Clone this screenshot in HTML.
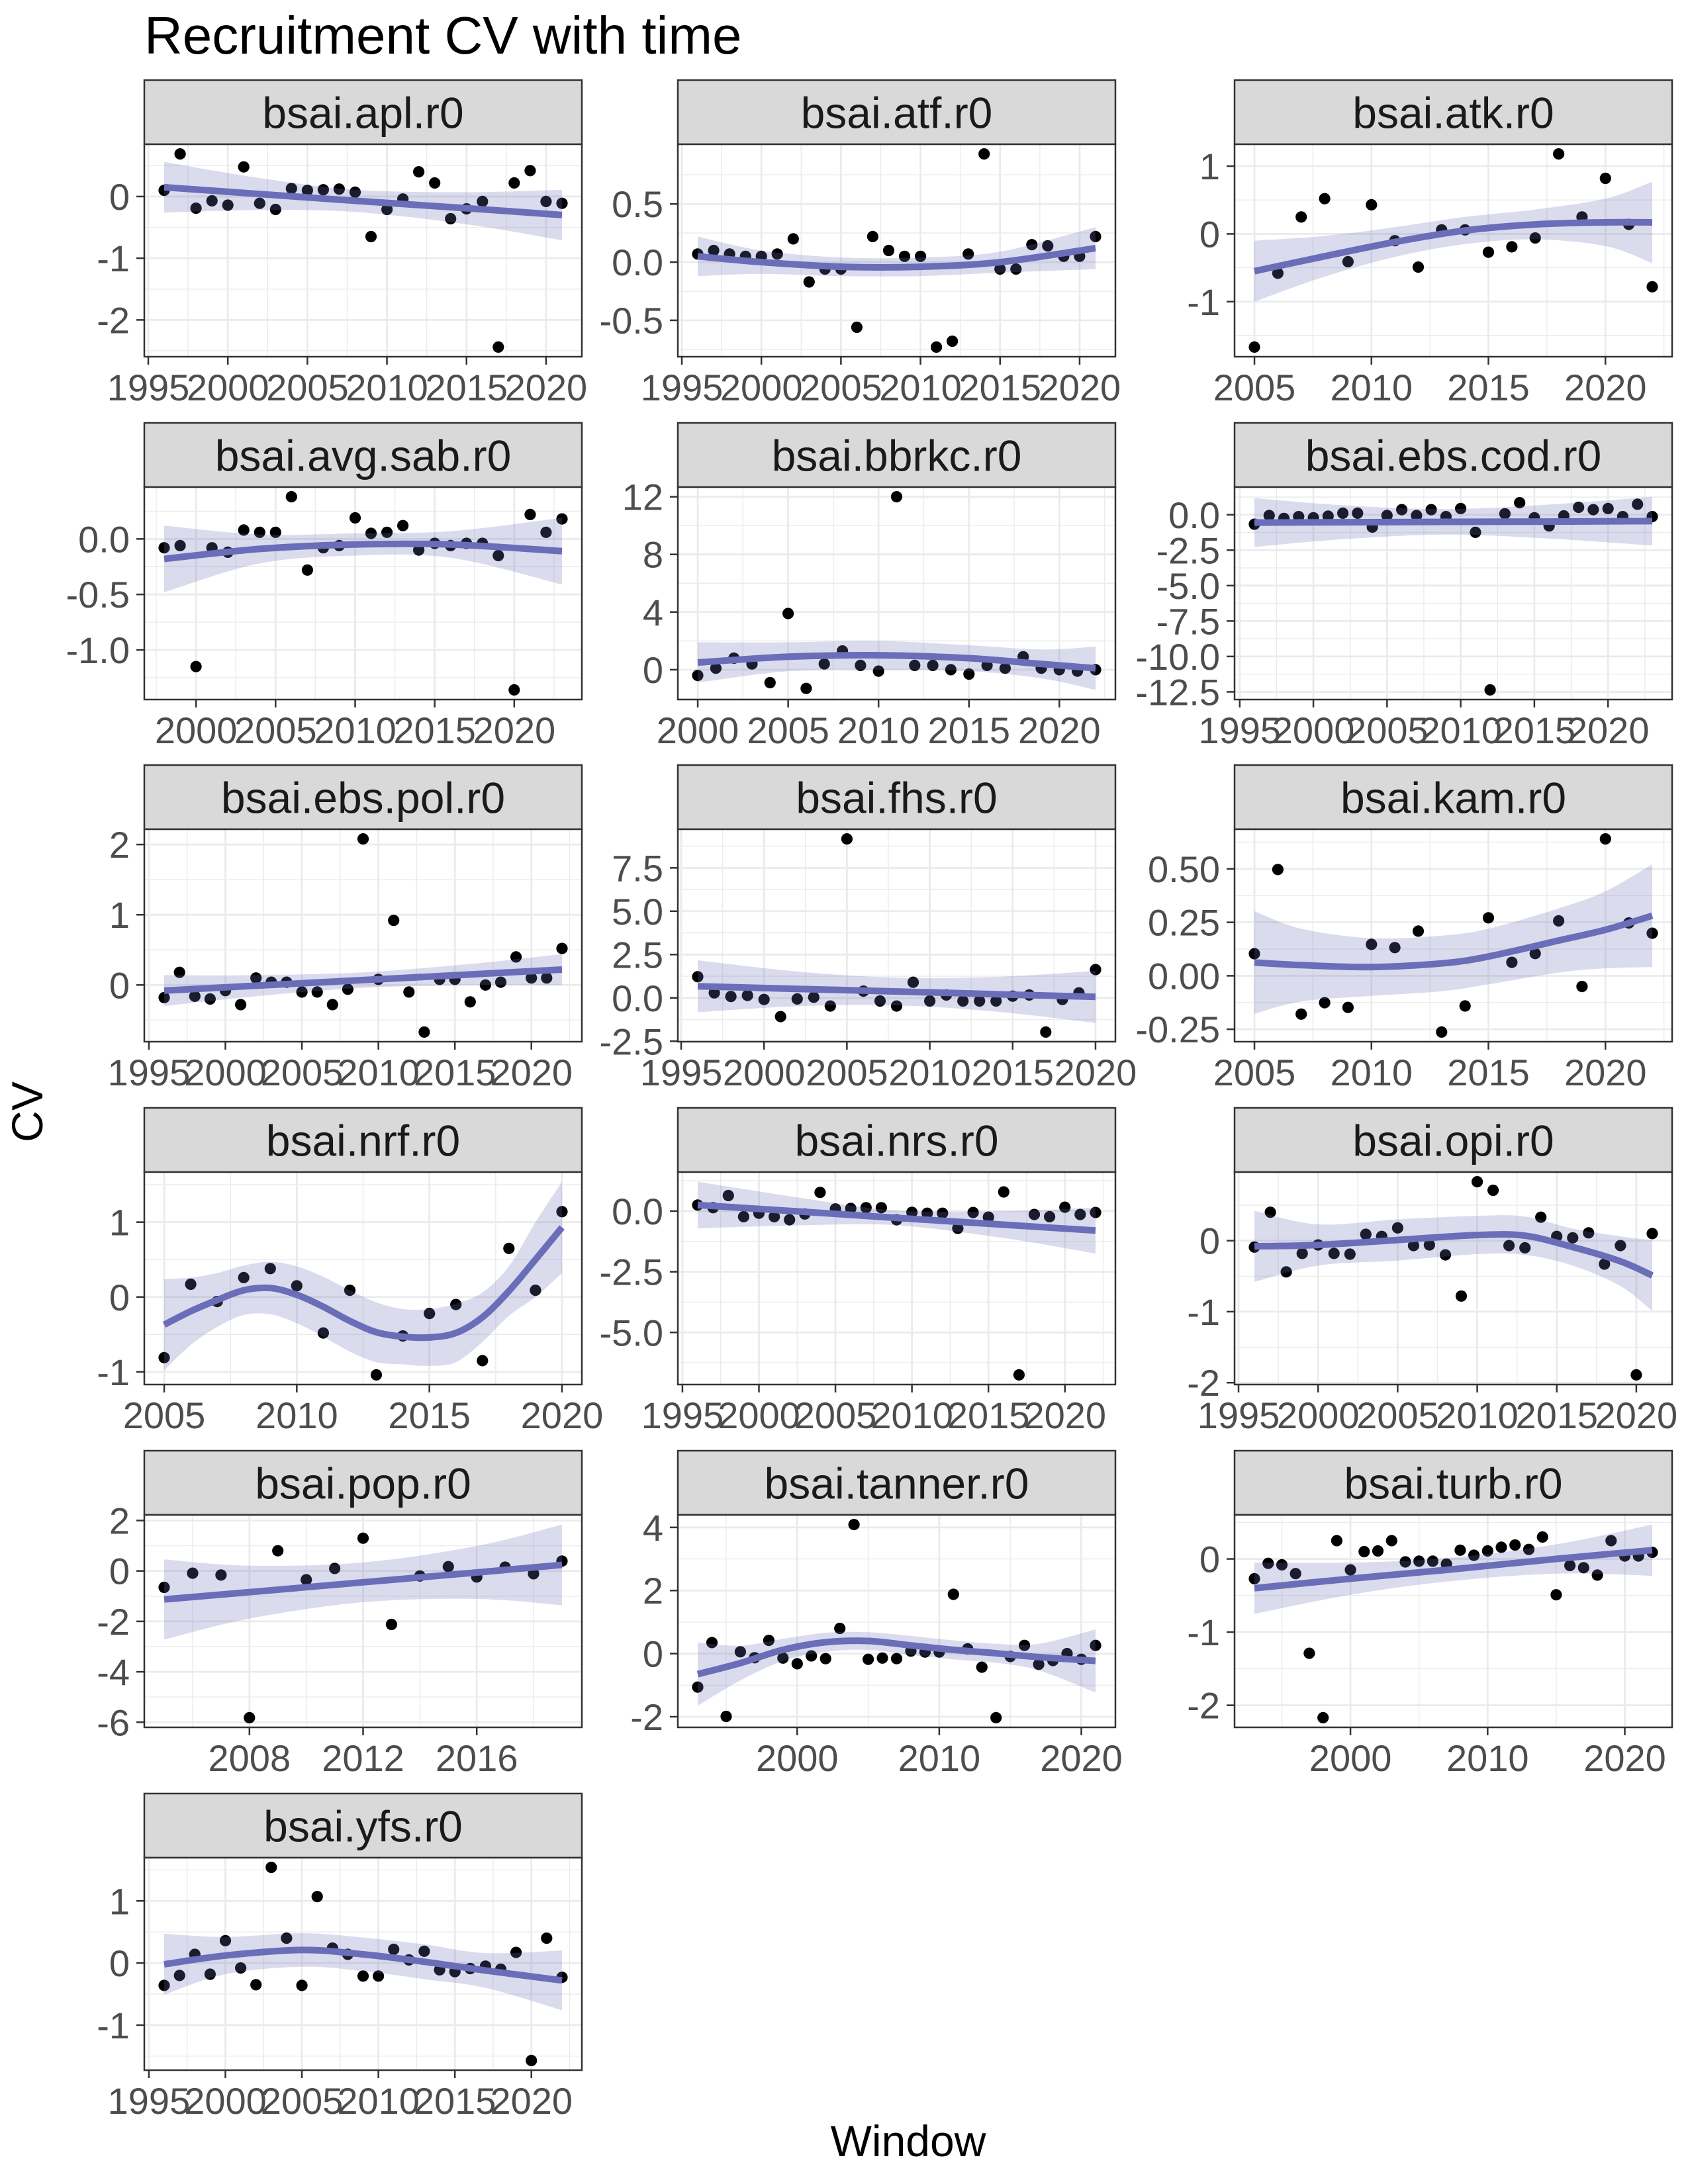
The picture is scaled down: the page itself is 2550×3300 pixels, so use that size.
<!DOCTYPE html>
<html><head><meta charset="utf-8"><title>Recruitment CV with time</title>
<style>
html,body{margin:0;padding:0;background:#fff;}
svg{display:block;font-family:"Liberation Sans",Arial,sans-serif;}
</style></head>
<body>
<svg id="chart" width="2550" height="3300" viewBox="0 0 2550 3300" xmlns="http://www.w3.org/2000/svg">
<rect x="0" y="0" width="2550" height="3300" fill="#ffffff"/>
<text x="218" y="81" font-size="80" fill="#000">Recruitment CV with time</text>
<text x="1372" y="3258" font-size="66" fill="#000" text-anchor="middle">Window</text>
<text x="0" y="0" font-size="66" fill="#000" text-anchor="middle" transform="translate(64,1680) rotate(-90)">CV</text>
<g id="panels"></g>
</svg>
<script>
// ---- data ----
const panelNames = ["bsai.apl.r0","bsai.atf.r0","bsai.atk.r0","bsai.avg.sab.r0","bsai.bbrkc.r0","bsai.ebs.cod.r0","bsai.ebs.pol.r0","bsai.fhs.r0","bsai.kam.r0","bsai.nrf.r0","bsai.nrs.r0","bsai.opi.r0","bsai.pop.r0","bsai.tanner.r0","bsai.turb.r0","bsai.yfs.r0"];

const aplStart = 1996;
const aplValues = [0.10,0.69,-0.19,-0.07,-0.14,0.48,-0.11,-0.21,0.13,0.10,0.11,0.12,0.07,-0.65,-0.21,-0.04,0.40,0.22,-0.36,-0.20,-0.08,-2.44,0.22,0.42,-0.08,-0.11];
const aplFitX = [1996,2002,2008,2015,2021];
const aplFit = [0.15,0.04,-0.07,-0.19,-0.30];
const aplHalf = [0.41,0.26,0.18,0.26,0.41];
const aplXTicks = [1995,2000,2005,2010,2015,2020];
const aplYTicks = [-2,-1,0];
const aplYLabels = ["-2","-1","0"];

const atfStart = 1996;
const atfValues = [0.07,0.10,0.07,0.05,0.05,0.07,0.20,-0.17,-0.06,-0.06,-0.56,0.22,0.10,0.05,0.05,-0.73,-0.68,0.07,0.93,-0.06,-0.06,0.15,0.14,0.05,0.05,0.22];
const atfFitX = [1996,2000,2005,2010,2015,2021];
const atfFit = [0.05,0.0,-0.04,-0.04,0.0,0.12];
const atfHalf = [0.17,0.10,0.08,0.08,0.09,0.18];
const atfXTicks = [1995,2000,2005,2010,2015,2020];
const atfYTicks = [-0.5,0,0.5];
const atfYLabels = ["-0.5","0.0","0.5"];

const atkStart = 2005;
const atkValues = [-1.67,-0.58,0.25,0.52,-0.41,0.43,-0.10,-0.49,0.06,0.06,-0.27,-0.19,-0.06,1.18,0.25,0.82,0.14,-0.78];
const atkFitX = [2005,2008,2011,2014,2017,2020,2022];
const atkFit = [-0.55,-0.33,-0.12,0.05,0.14,0.17,0.17];
const atkHalf = [0.45,0.30,0.22,0.20,0.22,0.35,0.60];
const atkXTicks = [2005,2010,2015,2020];
const atkYTicks = [-1,0,1];
const atkYLabels = ["-1","0","1"];

const sabStart = 1998;
const sabValues = [-0.08,-0.06,-1.15,-0.08,-0.12,0.08,0.06,0.06,0.38,-0.28,-0.08,-0.06,0.19,0.05,0.06,0.12,-0.10,-0.04,-0.06,-0.04,-0.04,-0.15,-1.36,0.22,0.06,0.18];
const sabFitX = [1998,2004,2010,2016,2023];
const sabFit = [-0.18,-0.09,-0.05,-0.05,-0.11];
const sabHalf = [0.30,0.13,0.10,0.12,0.30];
const sabXTicks = [2000,2005,2010,2015,2020];
const sabYTicks = [-1.0,-0.5,0.0];
const sabYLabels = ["-1.0","-0.5","0.0"];

const bbrStart = 2000;
const bbrValues = [-0.4,0.1,0.8,0.4,-0.9,3.9,-1.3,0.4,1.3,0.3,-0.1,12.0,0.3,0.3,0.0,-0.3,0.3,0.1,0.9,0.1,0.0,-0.1,0.0];
const bbrFitX = [2000,2005,2010,2015,2019,2022];
const bbrFit = [0.5,0.9,1.0,0.8,0.4,0.1];
const bbrHalf = [1.4,1.0,1.0,0.9,1.0,1.5];
const bbrXTicks = [2000,2005,2010,2015,2020];
const bbrYTicks = [0,4,8,12];
const bbrYLabels = ["0","4","8","12"];

const codStart = 1996;
const codValues = [-0.67,-0.05,-0.26,-0.13,-0.21,-0.10,0.11,0.11,-0.87,-0.05,0.36,-0.05,0.36,-0.13,0.44,-1.24,-12.36,0.07,0.85,-0.21,-0.79,-0.08,0.52,0.36,0.44,-0.13,0.74,-0.13];
const codFitX = [1996,2002,2009,2016,2023];
const codFit = [-0.55,-0.53,-0.50,-0.48,-0.45];
const codHalf = [1.72,1.2,0.9,1.2,1.72];
const codXTicks = [1995,2000,2005,2010,2015,2020];
const codYTicks = [-12.5,-10,-7.5,-5,-2.5,0];
const codYLabels = ["-12.5","-10.0","-7.5","-5.0","-2.5","0.0"];

const polStart = 1996;
const polValues = [-0.18,0.18,-0.16,-0.20,-0.08,-0.28,0.10,0.04,0.04,-0.10,-0.10,-0.28,-0.06,2.08,0.08,0.92,-0.10,-0.67,0.08,0.08,-0.24,0.0,0.04,0.40,0.10,0.10,0.52];
const polFitX = [1996,2002,2009,2016,2022];
const polFit = [-0.08,-0.01,0.07,0.15,0.22];
const polHalf = [0.22,0.15,0.11,0.15,0.22];
const polXTicks = [1995,2000,2005,2010,2015,2020];
const polYTicks = [0,1,2];
const polYLabels = ["0","1","2"];

const fhsStart = 1996;
const fhsValues = [1.22,0.29,0.08,0.14,-0.09,-1.08,-0.06,0.04,-0.47,9.17,0.39,-0.18,-0.47,0.90,-0.18,0.17,-0.18,-0.18,-0.18,0.10,0.17,-1.97,-0.09,0.29,1.63];
const fhsFitX = [1996,2002,2008,2014,2020];
const fhsFit = [0.67,0.52,0.37,0.21,0.06];
const fhsHalf = [1.5,1.0,0.8,1.0,1.5];
const fhsXTicks = [1995,2000,2005,2010,2015,2020];
const fhsYTicks = [-2.5,0,2.5,5,7.5];
const fhsYLabels = ["-2.5","0.0","2.5","5.0","7.5"];

const kamStart = 2005;
const kamValues = [0.103,0.497,-0.179,-0.126,-0.148,0.147,0.132,0.209,-0.263,-0.141,0.271,0.063,0.104,0.257,-0.050,0.640,0.247,0.199];
const kamFitX = [2005,2007,2010,2013,2015,2018,2020,2022];
const kamFit = [0.062,0.050,0.041,0.058,0.090,0.165,0.215,0.281];
const kamHalf = [0.24,0.17,0.135,0.13,0.13,0.15,0.18,0.24];
const kamXTicks = [2005,2010,2015,2020];
const kamYTicks = [-0.25,0,0.25,0.5];
const kamYLabels = ["-0.25","0.00","0.25","0.50"];

const nrfStart = 2005;
const nrfValues = [-0.81,0.17,-0.06,0.26,0.38,0.15,-0.48,0.09,-1.04,-0.52,-0.22,-0.10,-0.85,0.65,0.09,1.14];
const nrfFitX = [2005,2006,2007,2008,2009,2010,2011,2012,2013,2014,2015,2016,2017,2018,2019,2020];
const nrfFit = [-0.37,-0.19,-0.04,0.09,0.12,0.03,-0.13,-0.32,-0.47,-0.53,-0.54,-0.48,-0.27,0.08,0.50,0.93];
const nrfHalf = [0.61,0.45,0.36,0.33,0.35,0.38,0.40,0.41,0.40,0.37,0.38,0.39,0.33,0.33,0.50,0.61];
const nrfXTicks = [2005,2010,2015,2020];
const nrfYTicks = [-1,0,1];
const nrfYLabels = ["-1","0","1"];

const nrsStart = 1996;
const nrsValues = [0.25,0.14,0.64,-0.23,-0.09,-0.23,-0.36,-0.12,0.77,0.09,0.11,0.14,0.14,-0.36,-0.05,-0.09,-0.09,-0.71,-0.06,-0.25,0.79,-6.75,-0.14,-0.23,0.16,-0.14,-0.06];
const nrsFitX = [1996,2003,2009,2016,2022];
const nrsFit = [0.25,-0.03,-0.28,-0.56,-0.80];
const nrsHalf = [0.96,0.55,0.30,0.55,0.95];
const nrsXTicks = [1995,2000,2005,2010,2015,2020];
const nrsYTicks = [-5,-2.5,0];
const nrsYLabels = ["-5.0","-2.5","0.0"];

const opiStart = 1996;
const opiValues = [-0.09,0.40,-0.44,-0.18,-0.06,-0.18,-0.19,0.09,0.06,0.18,-0.07,-0.06,-0.20,-0.78,0.83,0.71,-0.07,-0.10,0.33,0.06,0.04,0.11,-0.33,-0.07,-1.89,0.10];
const opiFitX = [1996,2000,2005,2010,2013,2016,2019,2021];
const opiFit = [-0.08,-0.06,0.01,0.08,0.07,-0.09,-0.29,-0.49];
const opiHalf = [0.50,0.29,0.29,0.27,0.27,0.26,0.35,0.50];
const opiXTicks = [1995,2000,2005,2010,2015,2020];
const opiYTicks = [-2,-1,0];
const opiYLabels = ["-2","-1","0"];

const popStart = 2005;
const popValues = [-0.65,-0.09,-0.16,-5.82,0.80,-0.35,0.10,1.30,-2.12,-0.20,0.17,-0.24,0.15,-0.11,0.39];
const popFitX = [2005,2008,2012,2016,2019];
const popFit = [-1.13,-0.84,-0.45,-0.06,0.24];
const popHalf = [1.59,1.05,0.79,1.05,1.60];
const popXTicks = [2008,2012,2016];
const popYTicks = [-6,-4,-2,0,2];
const popYLabels = ["-6","-4","-2","0","2"];

const tanStart = 1993;
const tanValues = [-1.06,0.35,-1.99,0.06,-0.13,0.42,-0.14,-0.32,-0.07,-0.16,0.80,4.09,-0.18,-0.14,-0.16,0.08,0.05,0.05,1.88,0.15,-0.43,-2.03,-0.09,0.26,-0.34,-0.22,0.0,-0.18,0.26];
const tanFitX = [1993,1996,1999,2002,2005,2008,2011,2014,2017,2021];
const tanFit = [-0.65,-0.30,0.12,0.36,0.40,0.26,0.12,0.01,-0.11,-0.23];
const tanHalf = [1.0,0.55,0.35,0.30,0.28,0.30,0.30,0.30,0.42,1.0];
const tanXTicks = [2000,2010,2020];
const tanYTicks = [-2,0,2,4];
const tanYLabels = ["-2","0","2","4"];

const turStart = 1993;
const turValues = [-0.27,-0.06,-0.08,-0.20,-1.29,-2.17,0.25,-0.15,0.10,0.11,0.25,-0.04,-0.03,-0.03,-0.07,0.12,0.05,0.11,0.16,0.19,0.13,0.30,-0.49,-0.09,-0.12,-0.22,0.25,0.04,0.04,0.09];
const turFitX = [1993,2000,2007,2015,2022];
const turFit = [-0.40,-0.27,-0.15,0.0,0.12];
const turHalf = [0.35,0.22,0.16,0.20,0.35];
const turXTicks = [2000,2010,2020];
const turYTicks = [-2,-1,0];
const turYLabels = ["-2","-1","0"];

const yfsStart = 1996;
const yfsValues = [-0.36,-0.20,0.14,-0.18,0.36,-0.08,-0.35,1.54,0.40,-0.36,1.07,0.24,0.14,-0.21,-0.21,0.22,0.05,0.19,-0.11,-0.14,-0.09,-0.05,-0.10,0.17,-1.57,0.40,-0.23];
const yfsFitX = [1996,2000,2005,2009,2013,2017,2022];
const yfsFit = [-0.02,0.12,0.21,0.14,0.02,-0.12,-0.28];
const yfsHalf = [0.49,0.30,0.27,0.27,0.28,0.28,0.48];
const yfsXTicks = [1995,2000,2005,2010,2015,2020];
const yfsYTicks = [-1,0,1];
const yfsYLabels = ["-1","0","1"];

const panelData = [
 [aplStart,aplValues,aplFitX,aplFit,aplHalf,aplXTicks,aplYTicks,aplYLabels],
 [atfStart,atfValues,atfFitX,atfFit,atfHalf,atfXTicks,atfYTicks,atfYLabels],
 [atkStart,atkValues,atkFitX,atkFit,atkHalf,atkXTicks,atkYTicks,atkYLabels],
 [sabStart,sabValues,sabFitX,sabFit,sabHalf,sabXTicks,sabYTicks,sabYLabels],
 [bbrStart,bbrValues,bbrFitX,bbrFit,bbrHalf,bbrXTicks,bbrYTicks,bbrYLabels],
 [codStart,codValues,codFitX,codFit,codHalf,codXTicks,codYTicks,codYLabels],
 [polStart,polValues,polFitX,polFit,polHalf,polXTicks,polYTicks,polYLabels],
 [fhsStart,fhsValues,fhsFitX,fhsFit,fhsHalf,fhsXTicks,fhsYTicks,fhsYLabels],
 [kamStart,kamValues,kamFitX,kamFit,kamHalf,kamXTicks,kamYTicks,kamYLabels],
 [nrfStart,nrfValues,nrfFitX,nrfFit,nrfHalf,nrfXTicks,nrfYTicks,nrfYLabels],
 [nrsStart,nrsValues,nrsFitX,nrsFit,nrsHalf,nrsXTicks,nrsYTicks,nrsYLabels],
 [opiStart,opiValues,opiFitX,opiFit,opiHalf,opiXTicks,opiYTicks,opiYLabels],
 [popStart,popValues,popFitX,popFit,popHalf,popXTicks,popYTicks,popYLabels],
 [tanStart,tanValues,tanFitX,tanFit,tanHalf,tanXTicks,tanYTicks,tanYLabels],
 [turStart,turValues,turFitX,turFit,turHalf,turXTicks,turYTicks,turYLabels],
 [yfsStart,yfsValues,yfsFitX,yfsFit,yfsHalf,yfsXTicks,yfsYTicks,yfsYLabels]
];

// ---- layout ----
const NS = "http://www.w3.org/2000/svg";
const colLeft = [218, 1024, 1865];
const rowTop = [121, 639, 1156, 1674, 2192, 2710];
const PW = 661, SH = 97, PH = 321;
const root = document.getElementById('panels');

function el(tag, attrs, parent){
  const e = document.createElementNS(NS, tag);
  for (const k in attrs) e.setAttribute(k, attrs[k]);
  parent.appendChild(e);
  return e;
}
function crSegs(p){
  let d = "";
  for (let i=0;i<p.length-1;i++){
    const p0=p[i-1]||p[i], p1=p[i], p2=p[i+1], p3=p[i+2]||p[i+1];
    const c1x=p1[0]+(p2[0]-p0[0])/6, c1y=p1[1]+(p2[1]-p0[1])/6;
    const c2x=p2[0]-(p3[0]-p1[0])/6, c2y=p2[1]-(p3[1]-p1[1])/6;
    d += " C"+c1x.toFixed(1)+","+c1y.toFixed(1)+" "+c2x.toFixed(1)+","+c2y.toFixed(1)+" "+p2[0].toFixed(1)+","+p2[1].toFixed(1);
  }
  return d;
}
function minors(ticks, lo, hi){
  const step = ticks.length>1 ? ticks[1]-ticks[0] : 1;
  const out=[];
  for (let v = ticks[0]-step/2; v<=hi; v+=step){ if (v>=lo) out.push(v); }
  return out;
}

panelData.forEach(function(pd, i){
  const start=pd[0], vals=pd[1], fx=pd[2], fy=pd[3], fh=pd[4], xt=pd[5], yt=pd[6], yl=pd[7];
  const col=i%3, row=Math.floor(i/3);
  const L=colLeft[col], T=rowTop[row]+SH, B=T+PH, R=L+PW;
  const years = vals.map(function(v,k){return start+k;});
  const x0=years[0], x1=years[years.length-1];
  const xPad=(x1-x0)*0.05;
  const xd=[x0-xPad, x1+xPad];
  let lo=Math.min.apply(null, vals), hi=Math.max.apply(null, vals);
  fy.forEach(function(v,k){ lo=Math.min(lo, v-fh[k]); hi=Math.max(hi, v+fh[k]); });
  const yPad=(hi-lo)*0.05;
  const yd=[lo-yPad, hi+yPad];
  const sx=function(v){return L+(v-xd[0])/(xd[1]-xd[0])*PW;};
  const sy=function(v){return B-(v-yd[0])/(yd[1]-yd[0])*PH;};

  const g = el('g', {}, root);
  
  

  const strip = el('rect', {x:L, y:T-SH, width:PW, height:SH, fill:'#D9D9D9', stroke:'#333333', 'stroke-width':2.5}, g);
  
  
  const st = el('text', {x:L+PW/2, y:T-SH/2+24, 'font-size':66, fill:'#1A1A1A', 'text-anchor':'middle'}, g);
  st.textContent = panelNames[i];
  
  

  const bg = el('rect', {x:L, y:T, width:PW, height:PH, fill:'#ffffff'}, g);
  
  

  const grid = el('g', {}, g);
  
  
  minors(xt, xd[0], xd[1]).forEach(function(v){
    const ln = el('line', {x1:sx(v), x2:sx(v), y1:T, y2:B, stroke:'#EBEBEB', 'stroke-width':1.4}, grid);
    
    
  });
  minors(yt, yd[0], yd[1]).forEach(function(v){
    const ln = el('line', {x1:L, x2:R, y1:sy(v), y2:sy(v), stroke:'#EBEBEB', 'stroke-width':1.4}, grid);
    
    
  });
  xt.forEach(function(v){
    const ln = el('line', {x1:sx(v), x2:sx(v), y1:T, y2:B, stroke:'#EBEBEB', 'stroke-width':2.8}, grid);
    
    
  });
  yt.forEach(function(v){
    const ln = el('line', {x1:L, x2:R, y1:sy(v), y2:sy(v), stroke:'#EBEBEB', 'stroke-width':2.8}, grid);
    
    
  });

  const pts = el('g', {}, g);
  
  
  vals.forEach(function(v,k){
    const c = el('circle', {cx:sx(years[k]).toFixed(1), cy:sy(v).toFixed(1), r:8.6, fill:'#000'}, pts);
    
    
  });

  const up = fx.map(function(x,k){return [sx(x), sy(fy[k]+fh[k])];});
  const dn = fx.map(function(x,k){return [sx(x), sy(fy[k]-fh[k])];}).reverse();
  const rd = "M"+up[0][0].toFixed(1)+","+up[0][1].toFixed(1)+crSegs(up)+" L"+dn[0][0].toFixed(1)+","+dn[0][1].toFixed(1)+crSegs(dn)+" Z";
  const rib = el('path', {d:rd, fill:'#6B6EB7', 'fill-opacity':0.25, stroke:'none'}, g);
  
  

  const lp = fx.map(function(x,k){return [sx(x), sy(fy[k])];});
  const ld = "M"+lp[0][0].toFixed(1)+","+lp[0][1].toFixed(1)+crSegs(lp);
  const line = el('path', {d:ld, fill:'none', stroke:'#6A6DB7', 'stroke-width':10, 'stroke-linecap':'butt'}, g);
  
  

  const border = el('rect', {x:L, y:T, width:PW, height:PH, fill:'none', stroke:'#333333', 'stroke-width':2.5}, g);
  
  

  const xa = el('g', {}, g);
  
  
  xt.forEach(function(v){
    const tk = el('line', {x1:sx(v), x2:sx(v), y1:B, y2:B+12, stroke:'#333333', 'stroke-width':2.5}, xa);
    
    
    const tl = el('text', {x:sx(v), y:B+66, 'font-size':56, fill:'#4D4D4D', 'text-anchor':'middle'}, xa);
    tl.textContent = String(v);
    
    
  });
  const ya = el('g', {}, g);
  
  
  yt.forEach(function(v,k){
    const tk = el('line', {x1:L-12, x2:L, y1:sy(v), y2:sy(v), stroke:'#333333', 'stroke-width':2.5}, ya);
    
    
    const tl = el('text', {x:L-22, y:sy(v)+20, 'font-size':56, fill:'#4D4D4D', 'text-anchor':'end'}, ya);
    tl.textContent = yl[k];
    
    
  });
});
</script>
</body></html>
